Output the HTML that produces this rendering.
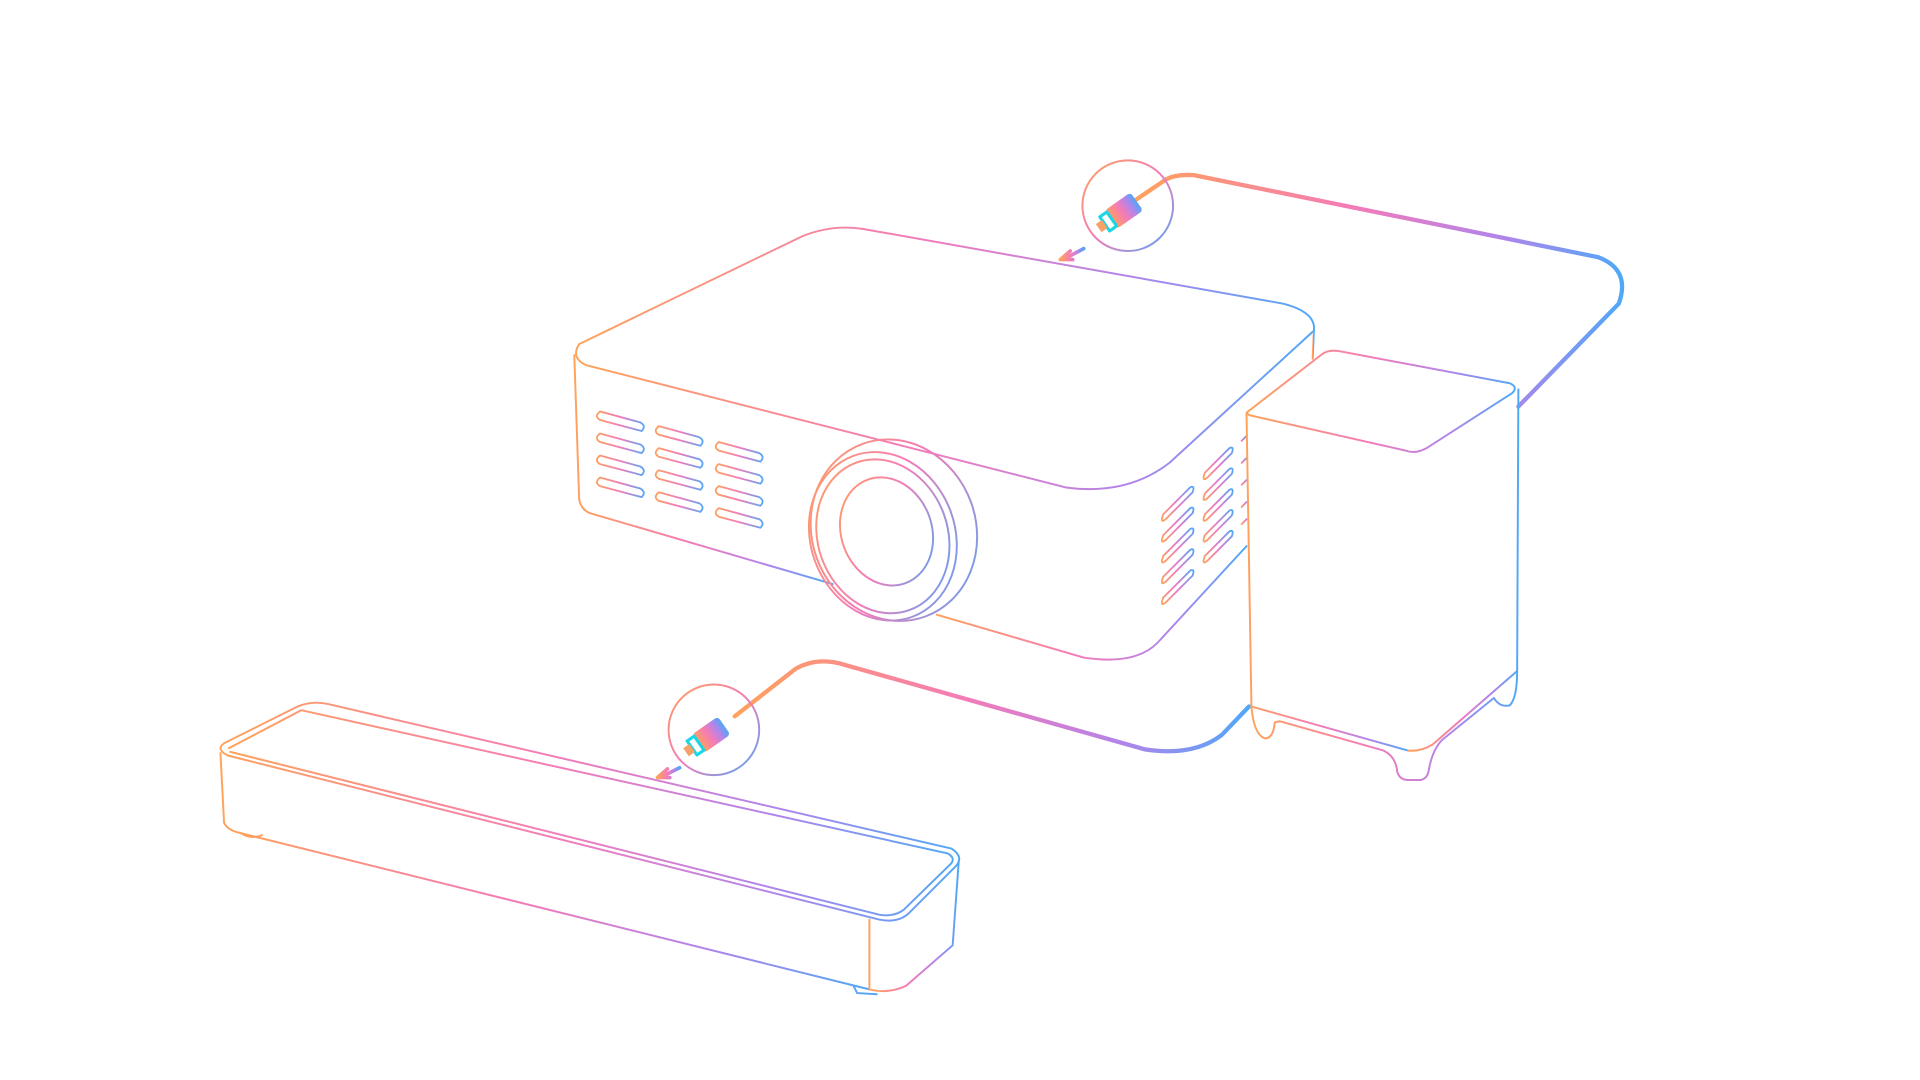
<!DOCTYPE html>
<html><head><meta charset="utf-8"><style>
html,body{margin:0;padding:0;background:#fff;}
svg{display:block;}
</style></head><body>
<svg width="1920" height="1080" viewBox="0 0 1568 882" xmlns="http://www.w3.org/2000/svg" fill="none" stroke-linecap="round" stroke-linejoin="round">
<defs>
<linearGradient id="g1" x1="0" y1="0" x2="1" y2="0"><stop offset="0" stop-color="#ffa25a"/><stop offset="0.45" stop-color="#f47bb8"/><stop offset="0.75" stop-color="#b284ea"/><stop offset="1" stop-color="#4fa8f7"/></linearGradient>
<linearGradient id="g2" x1="0" y1="0" x2="1" y2="1"><stop offset="0" stop-color="#ffa25a"/><stop offset="0.5" stop-color="#f47bb8"/><stop offset="1" stop-color="#4fa8f7"/></linearGradient>
<linearGradient id="g3" x1="0" y1="1" x2="1" y2="0"><stop offset="0" stop-color="#ffa25a"/><stop offset="0.5" stop-color="#e77ad0"/><stop offset="1" stop-color="#4fa8f7"/></linearGradient>
<linearGradient id="gv" x1="0" y1="0" x2="1" y2="0"><stop offset="0" stop-color="#ff9f5f"/><stop offset="0.5" stop-color="#f27bbd"/><stop offset="1" stop-color="#5aa6f5"/></linearGradient>
</defs>

<!-- top cable -->
<path d="M925,165 L950,148 Q958,142 975,143 L1305,210 Q1332,220 1322,248 L1240,332" stroke="url(#g1)" stroke-width="3.5"/>
<!-- lower cable -->
<path d="M600,585 L650,546 Q668,536 690,543 L935,612 Q975,618 998,600 L1020,577" stroke="url(#g1)" stroke-width="3.5"/>

<!-- projector -->
<g stroke="url(#g1)" stroke-width="1.6">
<path d="M473,281 L655,193 Q680,183 705,187 L1048,248 Q1075,255 1073,270 L955,378 Q920,405 870,398 L478,298 Q466,292 473,281 Z"/>
<path d="M469,290 L473,408 Q475,418 485,420 L680,477"/>
<path d="M765,502 L885,537 Q930,544 948,522 L1018,446"/>
<path d="M1073,270 L1072,293"/>
</g>
<g stroke="url(#g2)" stroke-width="1.6">
<ellipse cx="730" cy="433" rx="67" ry="75" transform="rotate(-20 730 433)"/>
<ellipse cx="721" cy="438" rx="59" ry="70" transform="rotate(-20 721 438)"/>
<ellipse cx="721" cy="438" rx="53" ry="64" transform="rotate(-20 721 438)"/>
<ellipse cx="724" cy="434" rx="37" ry="45" transform="rotate(-20 724 434)"/>
</g>
<!-- front vents -->
<g stroke="url(#gv)" stroke-width="1.5">
<g id="col">
<path d="M490,336 L523,345 Q528,348 524,352 L490,343 Q485,340 490,336 Z"/>
<path d="M490,354 L523,363 Q528,366 524,370 L490,361 Q485,358 490,354 Z"/>
<path d="M490,372 L523,381 Q528,384 524,388 L490,379 Q485,376 490,372 Z"/>
<path d="M490,390 L523,399 Q528,402 524,406 L490,397 Q485,394 490,390 Z"/>
</g>
<use href="#col" transform="translate(48,12)"/>
<use href="#col" transform="translate(97,25)"/>
</g>
<!-- side vents -->
<g stroke="url(#g3)" stroke-width="1.5">
<path d="M950,420 L972,398 Q976,396 974,402 L952,424 Q947,428 950,420 Z"/>
<path d="M950,437 L972,415 Q976,413 974,419 L952,441 Q947,445 950,437 Z"/>
<path d="M950,454 L972,432 Q976,430 974,436 L952,458 Q947,462 950,454 Z"/>
<path d="M950,471 L972,449 Q976,447 974,453 L952,475 Q947,479 950,471 Z"/>
<path d="M950,488 L972,466 Q976,464 974,470 L952,492 Q947,496 950,488 Z"/>
<path d="M984,386 L1004,366 Q1008,364 1006,370 L986,390 Q981,394 984,386 Z"/>
<path d="M984,403 L1004,383 Q1008,381 1006,387 L986,407 Q981,411 984,403 Z"/>
<path d="M984,420 L1004,400 Q1008,398 1006,404 L986,424 Q981,428 984,420 Z"/>
<path d="M984,437 L1004,417 Q1008,415 1006,421 L986,441 Q981,445 984,437 Z"/>
<path d="M984,454 L1004,434 Q1008,432 1006,438 L986,458 Q981,462 984,454 Z"/>
<path d="M1014,360 L1018,356 M1014,378 L1018,374 M1014,396 L1018,392 M1014,414 L1018,410 M1014,428 L1018,424"/>
</g>

<!-- subwoofer -->
<g stroke="url(#g1)" stroke-width="1.6" fill="#fff">
<path d="M1018,337 L1080,289 Q1086,285 1095,287 L1233,313 Q1240,316 1235,321 L1165,366 Q1156,371 1148,368 L1020,339 Z"/>
</g>
<g stroke="url(#g1)" stroke-width="1.6">
<path d="M1018,338 L1022,577 L1150,613"/>
<path d="M1155,369 L1155,613"/>
<path d="M1240,318 L1239,548 L1170,608 Q1160,614 1150,613"/>
<path d="M1022,577 Q1024,600 1033,603 Q1040,603 1041,590 L1045,589 L1130,613 Q1140,618 1141,630 Q1143,637 1150,637 L1160,637 Q1166,636 1167,628 Q1170,612 1178,604 L1220,570 Q1225,578 1233,576 Q1239,570 1239,548"/>
</g>

<!-- soundbar -->
<g stroke="url(#g1)" stroke-width="1.6">
<path d="M183,607 L243,577 Q255,572 268,575 L777,693 Q788,700 780,708 L742,746 Q733,754 718,751 L186,617 Q176,612 183,607 Z"/>
<path d="M187,611 L246,580 L774,697 Q781,701 776,706 L738,743 Q730,749 718,747 L188,614"/>
<path d="M180,615 L183,672 Q186,678 195,680 L710,808"/>
<path d="M710,751 L710,808 Q725,812 740,805 L778,772 L783,703"/>
<path d="M196,680 Q205,686 214,682 M697,805 L700,811 L716,812"/>
</g>

<!-- connectors circles -->
<g stroke-width="1.6">
<circle cx="921" cy="168" r="37" stroke="url(#g2)"/>
<circle cx="583" cy="596" r="37" stroke="url(#g2)"/>
</g>
<!-- connector 1 -->
<g transform="translate(912,176) rotate(-35)">
<rect x="-6" y="-9" width="26" height="18" rx="3" fill="url(#g1)"/>
<rect x="-12" y="-7" width="7" height="14" fill="none" stroke="#19d6e6" stroke-width="2.5"/>
<rect x="-18" y="-4" width="6" height="8" fill="#f7a067"/>
<path d="M20,0 L42,0" stroke="url(#g1)" stroke-width="4"/>
</g>
<!-- connector 2 -->
<g transform="translate(575,604) rotate(-35)">
<rect x="-6" y="-9" width="26" height="18" rx="3" fill="url(#g1)"/>
<rect x="-12" y="-7" width="7" height="14" fill="none" stroke="#19d6e6" stroke-width="2.5"/>
<rect x="-18" y="-4" width="6" height="8" fill="#f7a067"/>
<path d="M20,0 L42,0" stroke="url(#g1)" stroke-width="4"/>
</g>
<!-- small arrows -->
<path d="M885,203 L870,211 M866,212 L874,205 M866,212 L876,212" stroke="url(#g1)" stroke-width="3"/>
<path d="M555,627 L541,634 M537,635 L545,628 M537,635 L547,635" stroke="url(#g1)" stroke-width="3"/>
</svg>
</body></html>
